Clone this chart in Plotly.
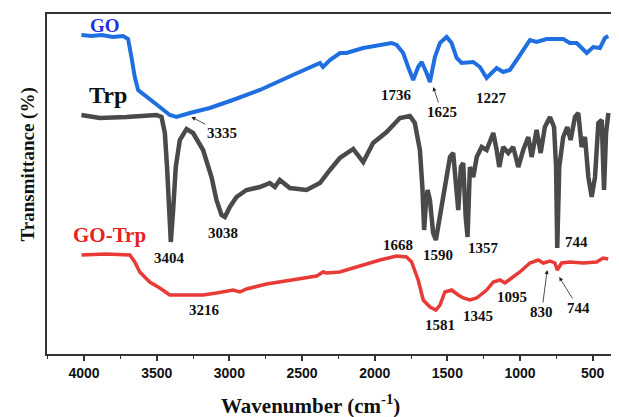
import plotly.graph_objects as go

# ---- data (wavenumber cm-1, offset transmittance in arbitrary units) ----
go_wn = [4018, 3950, 3880, 3800, 3732, 3697, 3674, 3651, 3628, 3570, 3479, 3410, 3364, 3272,
         3135, 2976, 2790, 2563, 2377, 2356, 2308, 2239, 2194, 2079, 1964, 1884, 1849, 1804,
         1770, 1735, 1701, 1677, 1643, 1620, 1586, 1551, 1505, 1471, 1436, 1402, 1322, 1276,
         1230, 1161, 1116, 1070, 1023, 932, 886, 817, 703, 657, 610, 541, 496, 450, 416, 393]
go_t = [319, 318, 319, 317, 318, 315, 297, 277, 264, 257, 247, 239, 237, 241,
        246, 254, 264, 279, 291, 287, 294, 301, 301, 306, 309, 311, 309, 301,
        287, 274, 287, 292, 281, 272, 297, 311, 317, 311, 296, 291, 292, 287,
        276, 286, 282, 284, 294, 314, 312, 315, 315, 311, 311, 301, 307, 306, 316, 318]

trp_wn = [4018, 3892, 3708, 3502, 3467, 3444, 3429, 3415, 3403, 3387, 3369, 3341, 3295, 3250,
          3181, 3123, 3089, 3054, 3031, 2997, 2951, 2882, 2790, 2722, 2687, 2653, 2584, 2469,
          2377, 2308, 2240, 2148, 2079, 2011, 1918, 1827, 1758, 1724, 1689, 1672, 1660, 1648,
          1636, 1620, 1598, 1579, 1551, 1517, 1482, 1460, 1441, 1425, 1407, 1391, 1374, 1361,
          1345, 1322, 1298, 1264, 1230, 1184, 1161, 1143, 1116, 1081, 1047, 1012, 978, 943,
          920, 886, 858, 829, 794, 766, 752, 744, 730, 703, 675, 652, 622, 599, 576, 553,
          530, 507, 484, 461, 438, 422, 408, 392]
trp_t = [239, 236, 237, 239, 237, 221, 187, 144, 112, 144, 187, 214, 225, 221,
         204, 177, 154, 139, 137, 147, 157, 164, 167, 171, 167, 174, 166, 164,
         171, 184, 196, 205, 192, 211, 222, 236, 238, 231, 204, 167, 124, 150,
         164, 154, 121, 114, 137, 171, 197, 201, 164, 144, 187, 191, 137, 117,
         187, 177, 197, 207, 204, 221, 204, 187, 207, 201, 207, 187, 204, 217,
         197, 224, 201, 227, 237, 227, 187, 106, 187, 217, 227, 214, 237, 241, 207, 217,
         177, 157, 177, 231, 234, 164, 221, 241]

gotrp_wn = [4018, 3850, 3685, 3651, 3617, 3548, 3479, 3410, 3318, 3181, 3089, 2974, 2928, 2882,
            2744, 2561, 2400, 2355, 2331, 2240, 2194, 2079, 1964, 1849, 1781, 1746, 1701, 1666,
            1620, 1579, 1551, 1517, 1471, 1425, 1391, 1345, 1298, 1230, 1184, 1138, 1104, 1058,
            1001, 932, 875, 840, 794, 760, 744, 714, 657, 565, 473, 428, 393]
gotrp_t = [99, 100, 99, 92, 82, 72, 66, 59, 59, 59, 61, 64, 62, 65,
           70, 74, 78, 82, 81, 82, 84, 89, 94, 98, 97, 92, 74, 54,
           47, 44, 49, 62, 64, 59, 56, 54, 56, 64, 72, 74, 71, 76,
           82, 91, 94, 91, 93, 91, 84, 91, 92, 91, 92, 96, 95]

tick_vals = [4000, 3500, 3000, 2500, 2000, 1500, 1000, 500]
tick_text = ["4000", "3500", "3000", "2500", "2000", "1500", "1000", "500"]

# peak labels: (text, label x, label y)
plain_labels = [("1736", 1849, 259), ("1227", 1195, 256), ("3038", 3043, 121),
                ("3404", 3410, 96), ("1668", 1838, 109), ("1590", 1563, 99),
                ("1357", 1253, 106), ("744", 610, 112), ("3216", 3169, 44),
                ("1581", 1551, 29), ("1345", 1288, 38), ("1095", 1058, 57)]
# arrow labels: (text, tip x, tip y, label x, label y)
arrow_labels = [("3335", 3261, 237, 3052, 221), ("1625", 1597, 267, 1540, 242),
                ("830", 813, 84, 851, 42), ("744", 730, 77, 599, 46)]

fig = go.Figure()
fig.add_trace(go.Scatter(x=go_wn, y=go_t, mode="lines",
                         line=dict(color="#1f6fe0", width=4), name="GO"))
fig.add_trace(go.Scatter(x=trp_wn, y=trp_t, mode="lines",
                         line=dict(color="#4a4a4a", width=4.5), name="Trp"))
fig.add_trace(go.Scatter(x=gotrp_wn, y=gotrp_t, mode="lines",
                         line=dict(color="#e83a36", width=3.5), name="GO-Trp"))

serif = "Liberation Serif"
ann = []
for t, x, y in plain_labels:
    ann.append(dict(x=x, y=y, text="<b>%s</b>" % t, showarrow=False,
                    font=dict(family=serif, size=15, color="#111")))
for t, x, y, tx, ty in arrow_labels:
    ann.append(dict(x=x, y=y, ax=tx, ay=ty, axref="x", ayref="y", text="<b>%s</b>" % t,
                    showarrow=True, arrowhead=2, arrowsize=1, arrowwidth=0.8,
                    arrowcolor="#222", font=dict(family=serif, size=15, color="#111")))
ann.append(dict(x=3857, y=329, text="<b>GO</b>", showarrow=False,
                font=dict(family=serif, size=19, color="#1f2fe0")))
ann.append(dict(x=3835, y=259, text="<b>Trp</b>", showarrow=False,
                font=dict(family=serif, size=24, color="#111")))
ann.append(dict(x=3822, y=119, text="<b>GO-Trp</b>", showarrow=False,
                font=dict(family=serif, size=21, color="#e82222")))
ann.append(dict(xref="paper", yref="paper", x=0.46, y=-0.15, xanchor="center", yanchor="middle",
                text="<b>Wavenumber (cm<sup>-1</sup>)</b>",
                showarrow=False, font=dict(family=serif, size=21, color="#111")))
ann.append(dict(xref="paper", yref="paper", x=-0.034, y=0.556, xanchor="center", yanchor="middle",
                text="<b>Transmittance (%)</b>",
                textangle=-90, showarrow=False, font=dict(family=serif, size=19, color="#111")))

# page body has an 8px default margin, so the figure is sized to fit inside the window
fig.update_layout(
    width=611, height=409,
    margin=dict(l=39, r=0, t=6, b=63),
    paper_bgcolor="white", plot_bgcolor="white",
    showlegend=False,
    annotations=ann,
    xaxis=dict(range=[4255, 319], showgrid=False, zeroline=False,
               showline=True, linecolor="#333", linewidth=1.5, mirror=True,
               ticks="outside", ticklen=5, tickwidth=1.5, tickcolor="#333",
               tickvals=tick_vals, ticktext=tick_text,
               tickfont=dict(family="Liberation Sans", size=14, color="#111", weight="bold"),
               minor=dict(dtick=250, tick0=0, ticks="outside", ticklen=3, tickwidth=1.2, tickcolor="#333")),
    yaxis=dict(range=[0, 340], showgrid=False, zeroline=False, showticklabels=False,
               showline=True, linecolor="#333", linewidth=1.5, ticks=""),
)

fig.write_html("out.html")
